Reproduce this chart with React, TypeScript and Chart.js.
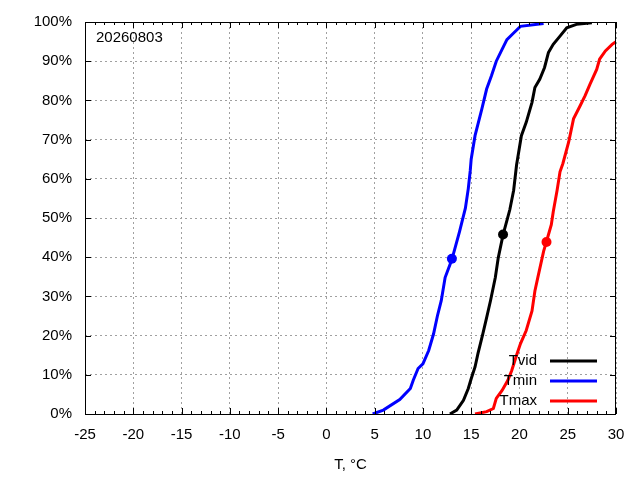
import { useEffect, useRef } from 'react';
import { Chart, registerables } from 'chart.js';

Chart.register(...registerables);

// Cumulative share of days (%) against temperature (°C)
const STAMP = '20260803';
const SERIES_LABELS = ['Tvid', 'Tmin', 'Tmax'];
const SERIES_COLORS = ['#000000', '#0000ff', '#ff0000'];

const TVID_X = [12.8, 13.5, 14.2, 14.7, 15.0, 15.4, 15.7, 16.2, 16.6, 17.0, 17.5, 17.8, 18.3, 19.0, 19.4, 19.7, 20.2, 20.7, 21.3, 21.6, 22.1, 22.6, 23.0, 23.5, 24.2, 24.9, 25.9, 27.5];
const TVID_Y = [0, 1, 3.5, 6.5, 9, 12, 15.4, 20.4, 24.6, 28.9, 34.8, 39.8, 45.7, 52.1, 57.1, 63.5, 71, 74.4, 79.5, 83.3, 85.4, 88.4, 92.2, 94.3, 96.4, 98.5, 99.4, 99.8];

const TMIN_X = [4.8, 5.9, 7.6, 8.7, 9.0, 9.5, 10.0, 10.6, 11.1, 11.5, 11.9, 12.3, 13.0, 13.8, 14.4, 14.7, 14.9, 15.0, 15.4, 16.1, 16.6, 17.1, 17.6, 18.2, 18.7, 19.4, 20.1, 22.5];
const TMIN_Y = [0, 1, 3.7, 6.5, 8.6, 11.6, 12.8, 16.2, 20.4, 25, 28.9, 34.8, 39.4, 46.6, 52.5, 57.5, 62, 65, 71, 77.8, 82.9, 86.3, 90, 93, 95.5, 97.2, 98.9, 99.6];

const TMAX_X = [15.4, 16.6, 17.3, 17.6, 18.2, 18.8, 19.2, 19.7, 20.1, 20.7, 21.3, 21.6, 21.9, 22.5, 22.8, 23.3, 23.5, 23.9, 24.2, 24.5, 25.1, 25.6, 26.3, 26.8, 27.3, 28.0, 28.3, 28.9, 29.6, 30.0];
const TMAX_Y = [0, 0.6, 1.4, 4, 6, 8.6, 11.1, 15, 17.9, 21.3, 26.3, 31.4, 34.8, 41.5, 44, 48.3, 51.6, 57.1, 61.8, 63.9, 69.4, 75.3, 78.7, 81.2, 84.1, 87.9, 90.5, 92.6, 94.3, 95];

// marked points: Tvid, Tmin, Tmax
const MARK_X = [18.3, 13.0, 22.8];
const MARK_Y = [45.8, 39.6, 43.9];

const X_MIN = -25;
const X_MAX = 30;
const Y_MIN = 0;
const Y_MAX = 100;

const FONT = 'Liberation Sans, Arial, sans-serif';

const toPoints = (xs: number[], ys: number[]) => xs.map((x, i) => ({ x, y: ys[i] }));

// frame, inward ticks, key and date label, gnuplot style
const decorations = {
  id: 'decorations',
  afterDatasetsDraw(chart: Chart) {
    const { ctx, chartArea: a, scales } = chart;
    const xs = scales.x;
    const ys = scales.y;
    ctx.save();
    ctx.strokeStyle = '#000';
    ctx.lineWidth = 1;
    ctx.setLineDash([]);
    ctx.beginPath();
    for (let v = X_MIN; v <= X_MAX; v += 1) {
      const px = Math.round(xs.getPixelForValue(v)) + 0.5;
      const len = v % 5 === 0 ? 6 : 3;
      ctx.moveTo(px, a.bottom);
      ctx.lineTo(px, a.bottom - len);
      ctx.moveTo(px, a.top);
      ctx.lineTo(px, a.top + len);
    }
    for (let v = Y_MIN; v <= Y_MAX; v += 10) {
      const py = Math.round(ys.getPixelForValue(v)) + 0.5;
      ctx.moveTo(a.left, py);
      ctx.lineTo(a.left + 6, py);
      ctx.moveTo(a.right, py);
      ctx.lineTo(a.right - 6, py);
    }
    ctx.stroke();
    ctx.strokeRect(Math.round(a.left) + 0.5, Math.round(a.top) + 0.5, Math.round(a.width) - 1, Math.round(a.height));

    ctx.font = `15px ${FONT}`;
    ctx.fillStyle = '#000';
    ctx.textBaseline = 'middle';
    ctx.textAlign = 'left';
    ctx.fillText(STAMP, a.left + 11, a.top + 16);

    // key
    ctx.textAlign = 'right';
    SERIES_LABELS.forEach((label, i) => {
      const yy = a.bottom - 53 + i * 20;
      ctx.fillStyle = '#000';
      ctx.fillText(label, a.right - 79, yy);
      ctx.strokeStyle = SERIES_COLORS[i];
      ctx.lineWidth = 3;
      ctx.beginPath();
      ctx.moveTo(a.right - 66, yy);
      ctx.lineTo(a.right - 19, yy);
      ctx.stroke();
    });
    ctx.restore();
  },
};

export default function App() {
  const canvasRef = useRef<HTMLCanvasElement>(null);
  const chartRef = useRef<Chart | null>(null);

  useEffect(() => {
    document.body.style.margin = '0';
    if (!canvasRef.current) return;
    if (chartRef.current) chartRef.current.destroy();

    const curves = [toPoints(TVID_X, TVID_Y), toPoints(TMIN_X, TMIN_Y), toPoints(TMAX_X, TMAX_Y)];

    const lineSets = curves.map((pts, i) => ({
      label: SERIES_LABELS[i],
      data: pts,
      showLine: true,
      borderColor: SERIES_COLORS[i],
      backgroundColor: SERIES_COLORS[i],
      borderWidth: 3,
      pointRadius: 0,
      tension: 0,
    }));

    const markSets = MARK_X.map((x, i) => ({
      label: SERIES_LABELS[i] + ' mark',
      data: [{ x, y: MARK_Y[i] }],
      showLine: false,
      borderColor: SERIES_COLORS[i],
      backgroundColor: SERIES_COLORS[i],
      pointRadius: 5,
      pointBorderWidth: 0,
    }));

    chartRef.current = new Chart(canvasRef.current, {
      type: 'scatter',
      data: { datasets: [...markSets, ...lineSets] },
      options: {
        responsive: false,
        animation: false,
        layout: { padding: { top: 19, right: 24, left: 0, bottom: 0 } },
        plugins: {
          legend: { display: false },
          tooltip: { enabled: false },
        },
        scales: {
          x: {
            type: 'linear',
            min: X_MIN,
            max: X_MAX,
            afterFit: (scale: any) => {
              scale.height = 66;
            },
            ticks: {
              stepSize: 5,
              padding: 12,
              color: '#000',
              font: { family: FONT, size: 15 },
              maxRotation: 0,
            },
            grid: { color: '#a0a0a0', lineWidth: 1, drawTicks: false },
            border: { display: false, dash: [2, 3] },
            title: {
              display: true,
              text: 'T, °C',
              color: '#000',
              font: { family: FONT, size: 15 },
              padding: { top: 4, bottom: 6 },
            },
          },
          y: {
            type: 'linear',
            min: Y_MIN,
            max: Y_MAX,
            afterFit: (scale: any) => {
              scale.width = 85;
            },
            ticks: {
              stepSize: 10,
              padding: 13,
              color: '#000',
              font: { family: FONT, size: 15 },
              callback: (v: any) => v + '%',
            },
            grid: { color: '#a0a0a0', lineWidth: 1, drawTicks: false },
            border: { display: false, dash: [2, 3] },
          },
        },
      },
      plugins: [decorations],
    });

    return () => {
      if (chartRef.current) {
        chartRef.current.destroy();
        chartRef.current = null;
      }
    };
  }, []);

  return (
    <div style={{ width: 640, height: 480, background: '#fff' }}>
      <canvas ref={canvasRef} width={640} height={480}></canvas>
    </div>
  );
}
